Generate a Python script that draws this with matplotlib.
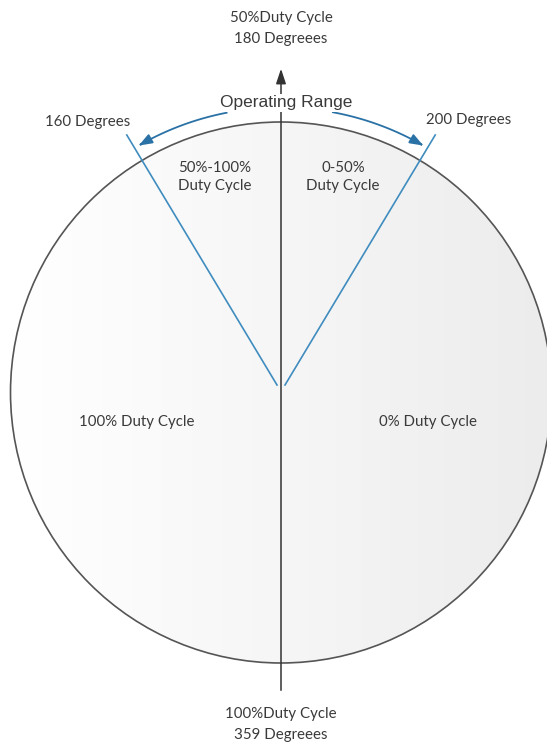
import numpy as np
import matplotlib.pyplot as plt
from matplotlib.patches import Circle
from matplotlib.colors import LinearSegmentedColormap

# ############ Datos del diagrama
etiquetas_eje = ["50%Duty Cycle\n180 Degreees", "100%Duty Cycle\n359 Degreees"]
limites_grados = [160, 200]
limites_texto = ["160 Degrees", "200 Degrees"]
zonas_rango = ["50%-100%\nDuty Cycle", "0-50%\nDuty Cycle"]
zonas_mitad = ["100% Duty Cycle", "0% Duty Cycle"]
titulo_rango = "Operating Range"

# ############ Geometria (pixeles)
W, H = 547, 742
cx, cy, R = 281, 392.5, 270.5
angulo_linea = 31.0      # inclinacion visual de las lineas de 160/200 grados
R_flecha = 285

fuente = "Lato"
gris_txt = "#3a3a3a"
azul = "#3f8cbf"
azul_osc = "#2a72a6"
tam = 10.8

fig = plt.figure(figsize=(W / 100, H / 100), dpi=100)
ax = fig.add_axes([0, 0, 1, 1])
ax.set_xlim(0, W)
ax.set_ylim(H, 0)
ax.set_aspect("equal")
ax.axis("off")

# circulo con degradado
grad = np.linspace(0, 1, 256).reshape(1, -1)
cmap = LinearSegmentedColormap.from_list("g", ["#ffffff", "#f6f6f6", "#ececec"])
img = ax.imshow(grad, cmap=cmap, extent=[cx - R, cx + R, cy + R, cy - R],
                zorder=1, aspect="auto")
circ = Circle((cx, cy), R, facecolor="none", edgecolor="#555555", lw=1.2, zorder=3)
ax.add_patch(circ)
img.set_clip_path(circ)

# eje vertical con flecha
ax.plot([cx, cx], [82, 690], color="#333333", lw=1.1, zorder=4)
ax.annotate("", xy=(cx, 66), xytext=(cx, 84),
            arrowprops=dict(arrowstyle="-|>,head_length=0.9,head_width=0.3",
                            color="#333333", lw=1.1), zorder=4)

# lineas de 160 y 200 grados
for signo in [-1, 1]:
    a = np.radians(angulo_linea)
    x0 = cx + signo * 4
    y0 = 385
    largo = 250 / np.cos(a)
    ax.plot([x0, x0 + signo * largo * np.sin(a)], [y0, y0 - largo * np.cos(a)],
            color=azul, lw=1.2, zorder=5)

# flechas del rango de operacion (arcos)
for signo, (a_ini, a_fin) in zip([-1, 1], [(11, 30.5), (10.5, 30.5)]):
    t = np.radians(np.linspace(a_ini, a_fin, 60))
    xs = cx + signo * R_flecha * np.sin(t)
    ys = cy - R_flecha * np.cos(t)
    ax.plot(xs[:-3], ys[:-3], color=azul_osc, lw=1.3, zorder=5)
    ax.annotate("", xy=(xs[-1], ys[-1]), xytext=(xs[-6], ys[-6]),
                arrowprops=dict(arrowstyle="-|>,head_length=0.8,head_width=0.3",
                                color=azul_osc, lw=1.3), zorder=5)

# textos
ax.text(cx, 28.5, etiquetas_eje[0], ha="center", va="center", fontsize=tam,
        family=fuente, color=gris_txt, linespacing=1.6)
ax.text(cx, 724.5, etiquetas_eje[1], ha="center", va="center", fontsize=tam,
        family=fuente, color=gris_txt, linespacing=1.6)
ax.text(cx + 5, 103, titulo_rango, ha="center", va="center", fontsize=12.5,
        family="Liberation Sans", color=gris_txt, zorder=6,
        bbox=dict(facecolor="white", edgecolor="none", pad=1))
ax.text(88, 122, limites_texto[0], ha="center", va="center", fontsize=tam,
        family=fuente, color=gris_txt)
ax.text(469, 120, limites_texto[1], ha="center", va="center", fontsize=tam,
        family=fuente, color=gris_txt)
ax.text(215, 177, zonas_rango[0], ha="center", va="center", fontsize=tam,
        family=fuente, color=gris_txt, linespacing=1.4, zorder=6)
ax.text(343, 177, zonas_rango[1], ha="center", va="center", fontsize=tam,
        family=fuente, color=gris_txt, linespacing=1.4, zorder=6)
ax.text(137, 422, zonas_mitad[0], ha="center", va="center", fontsize=tam,
        family=fuente, color=gris_txt, zorder=6)
ax.text(428, 422, zonas_mitad[1], ha="center", va="center", fontsize=tam,
        family=fuente, color=gris_txt, zorder=6)

fig.savefig("out.png", dpi=100, facecolor="white")
